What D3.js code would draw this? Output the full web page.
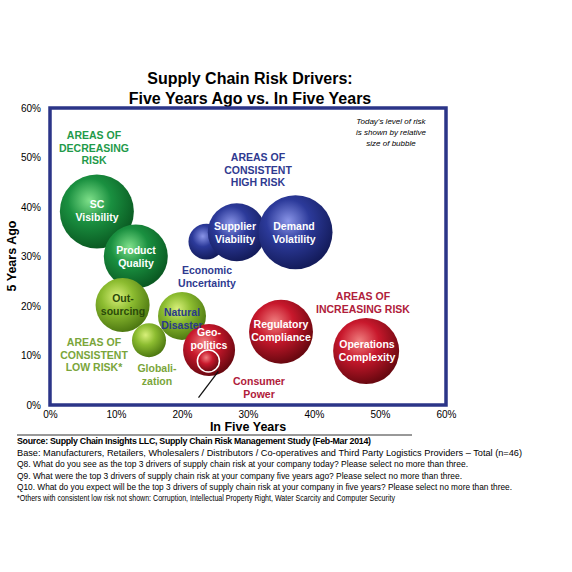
<!DOCTYPE html><html><head><meta charset="utf-8">
<script src="https://cdn.jsdelivr.net/npm/d3@7"></script>
<style>body{margin:0;background:#fff}text{font-family:Arial,"Liberation Sans",sans-serif}</style></head><body>
<svg id="c" width="572" height="572"></svg>
<script>
const names=["SC Visibility","Product Quality","Outsourcing","Globalization","Natural Disaster","Geopolitics","Consumer Power","Economic Uncertainty","Supplier Viability","Demand Volatility","Regulatory Compliance","Operations Complexity"];
const inFive=[7.1,13.0,11.0,15.0,20.0,24.1,24.0,23.7,28.3,37.2,35.0,47.9];
const yearsAgo=[39.1,30.0,20.2,13.1,18.0,11.1,8.9,33.0,34.9,34.9,14.8,10.9];
const today=[40.7,30.4,21.7,8.6,17.1,20.1,3.6,9.6,25,40.7,30.4,32.4];
const group=["dg","dg","lg","lg","lg","r","r","b","b","b","r","r"];
const ticks=[0,10,20,30,40,50,60];
const svg=d3.select("#c");
const x=d3.scaleLinear().domain([0,60]).range([50,446]);
const y=d3.scaleLinear().domain([0,60]).range([405,108]);
const r=d3.scaleSqrt().domain([0,100]).range([0,58]);
const cols={dg:["#7fe08a","#1a9040","#0a5a22"],lg:["#d8f07a","#8cbc30","#4f7a12"],b:["#8a95e8","#2c3a9a","#141c5c"],r:["#f08080","#c8182c","#6a0810"]};
const defs=svg.append("defs");
Object.entries(cols).forEach(([k,c])=>{const g=defs.append("radialGradient").attr("id","g"+k).attr("cx","40%").attr("cy","35%").attr("r","65%");
g.append("stop").attr("offset","0%").attr("stop-color",c[0]);g.append("stop").attr("offset","45%").attr("stop-color",c[1]);g.append("stop").attr("offset","100%").attr("stop-color",c[2]);});
svg.append("text").attr("x",250).attr("y",84).attr("text-anchor","middle").attr("font-size",16).attr("font-weight","bold").text("Supply Chain Risk Drivers:");
svg.append("text").attr("x",250).attr("y",104).attr("text-anchor","middle").attr("font-size",16).attr("font-weight","bold").text("Five Years Ago vs. In Five Years");
svg.append("g").attr("transform","translate(0,405)").call(d3.axisBottom(x).tickValues(ticks).tickFormat(d=>d+"%").tickSize(0)).call(g=>{g.select(".domain").remove();g.selectAll("text").attr("font-size",10).attr("dy",10)});
svg.append("g").attr("transform","translate(50,0)").call(d3.axisLeft(y).tickValues(ticks).tickFormat(d=>d+"%").tickSize(0)).call(g=>{g.select(".domain").remove();g.selectAll("text").attr("font-size",10).attr("dx",-6)});
svg.append("rect").attr("x",x(0)).attr("y",y(60)).attr("width",x(60)-x(0)).attr("height",y(0)-y(60)).attr("fill","none").attr("stroke","#2b3588").attr("stroke-width",3.5);
svg.append("text").attr("x",248).attr("y",431).attr("text-anchor","middle").attr("font-size",12.5).attr("font-weight","bold").text("In Five Years");
svg.append("text").attr("transform","translate(16,256) rotate(-90)").attr("text-anchor","middle").attr("font-size",12.5).attr("font-weight","bold").text("5 Years Ago");
svg.append("line").attr("x1",17).attr("x2",412).attr("y1",435).attr("y2",435).attr("stroke","#333");
const idx=d3.range(names.length);
svg.append("g").selectAll("circle").data(idx).join("circle").attr("cx",i=>x(inFive[i])).attr("cy",i=>y(yearsAgo[i])).attr("r",i=>r(today[i])).attr("fill",i=>`url(#g${group[i]})`);
svg.append("circle").attr("cx",x(24)).attr("cy",y(8.9)).attr("r",r(3.6)).attr("fill","none").attr("stroke","#fff").attr("stroke-width",1.5);
svg.append("line").attr("x1",x(25.5)).attr("y1",y(6.8)).attr("x2",x(22.5)).attr("y2",y(1.5)).attr("stroke","#111").attr("stroke-width",1.3);
function lab(t,px,py,col,fs,bold,anchor){const tx=svg.append("text").attr("x",px).attr("y",py).attr("text-anchor",anchor||"middle").attr("font-size",fs).attr("font-weight",bold?"bold":"normal").attr("fill",col);
t.split("\n").forEach((l,k)=>tx.append("tspan").attr("x",px).attr("dy",k?fs*1.2:0).text(l));}
const W="#fff";
lab("SC\nVisibility",97,208,W,10.5,1);lab("Product\nQuality",136,254,W,10.5,1);lab("Out-\nsourcing",123,302,"#2a4a0a",10.5,1);
lab("Natural\nDisaster",182,316,"#2a3a8a",10.5,1);lab("Geo-\npolitics",209,336,W,10.5,1);lab("Supplier\nViability",235,230,W,10.5,1);
lab("Demand\nVolatility",294,230,W,10.5,1);lab("Regulatory\nCompliance",281,328,W,10.5,1);lab("Operations\nComplexity",367,348,W,10.5,1);
lab("Economic\nUncertainty",207,274,"#2f3a90",10.5,1);lab("Globali-\nzation",157,372,"#7aa53a",10.5,1);lab("Consumer\nPower",259,385,"#b0203a",10.5,1);
lab("AREAS OF\nDECREASING\nRISK",94,139,"#1f9a4a",10.5,1);lab("AREAS OF\nCONSISTENT\nHIGH RISK",258,161,"#2f3a90",10.5,1);
lab("AREAS OF\nINCREASING RISK",363,300,"#b0203a",10.5,1);lab("AREAS OF\nCONSISTENT\nLOW RISK*",94,346,"#7aa53a",10.5,1);
const tt=svg.append("text").attr("font-size",8).attr("font-style","italic").attr("text-anchor","middle");
["Today's level of risk","is shown by relative","size of bubble"].forEach((l,k)=>tt.append("tspan").attr("x",391).attr("y",124+k*11).text(l));
const foot=["Base:  Manufacturers,  Retailers, Wholesalers / Distributors / Co-operatives and Third Party Logistics Providers – Total (n=46)","Q8. What do you see as the top 3 drivers of supply chain risk at your company today?  Please select no more than three.","Q9. What were the top 3 drivers of supply chain risk at your company five years ago?  Please select no more than three.","Q10. What do you expect will be the top 3 drivers of supply chain risk at your company in five years?  Please select no more than three.","*Others with consistent low risk not shown:  Corruption, Intellectual Property Right, Water Scarcity and Computer Security"];
const footW=[505,451,445,495,378];
svg.append("text").attr("x",17).attr("y",444).attr("font-size",8.8).attr("font-weight","bold").attr("textLength",354).text("Source:  Supply Chain Insights LLC, Supply Chain Risk Management Study (Feb-Mar 2014)");
foot.forEach((l,k)=>svg.append("text").attr("x",17).attr("y",456+k*11.3).attr("font-size",8.6).attr("textLength",footW[k]).attr("lengthAdjust","spacingAndGlyphs").text(l));
</script></body></html>
